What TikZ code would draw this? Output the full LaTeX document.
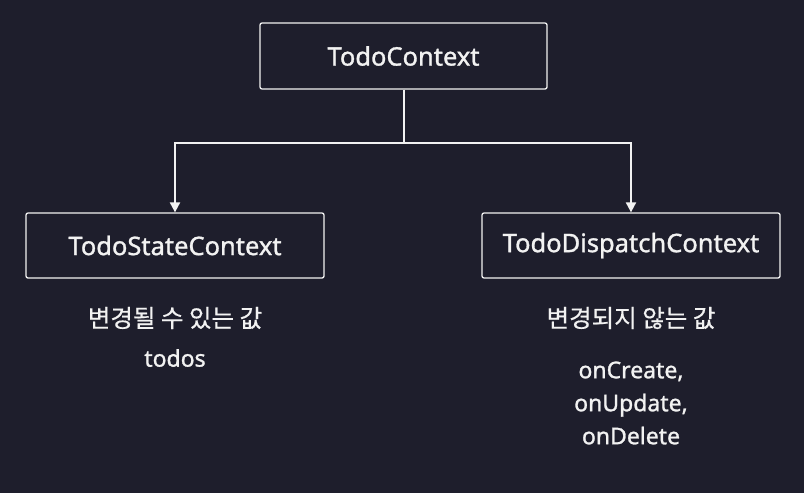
\documentclass[tikz,border=0pt]{standalone}
\usepackage{fontspec}
\newfontfamily\lafont[FakeBold=1.2]{Noto Sans}
\newfontfamily\kofont[FakeBold=0.5]{Noto Sans CJK KR}
\usetikzlibrary{arrows.meta}
\definecolor{bgc}{HTML}{1E1E2C}
\definecolor{fgc}{HTML}{F2F2F2}
\begin{document}
\begin{tikzpicture}[x=1pt,y=-1pt,
  box/.style={draw=fgc,line width=1.3pt,rounded corners=2pt,fill=bgc,text=fgc,font=\fontsize{25.5}{30}\selectfont\lafont,inner sep=0pt},
  conn/.style={draw=fgc,line width=2pt},
  arr/.style={conn,-{Triangle[width=10pt,length=10pt]}},
  lbl/.style={text=fgc,font=\fontsize{24.5}{30}\selectfont\kofont},
  val/.style={text=fgc,font=\fontsize{23}{33}\selectfont\lafont,align=center}]
\fill[bgc] (0,0) rectangle (804,493);
\useasboundingbox (0,0) rectangle (804,493);
\node[box,minimum width=287pt,minimum height=66pt] (top) at (403.5,56) {TodoContext};
\node[box,minimum width=298pt,minimum height=65pt] (left) at (175,245.5) {TodoStateContext};
\node[box,minimum width=298pt,minimum height=65pt] (right) at (631,245.5) {TodoDispatchContext};
\coordinate (j) at (403.5,143);
\draw[conn] (top.south) -- (j);
\draw[arr] (j) -| (left.north);
\draw[arr] (j) -| (right.north);
\node[lbl] (lk) at (175,318) {변경될 수 있는 값};
\node[val] (lv) at (175,358) {todos};
\node[lbl] (rk) at (631,318) {변경되지 않는 값};
\node[val] (rv) at (631,403) {onCreate,\\onUpdate,\\onDelete};
\end{tikzpicture}
\end{document}
